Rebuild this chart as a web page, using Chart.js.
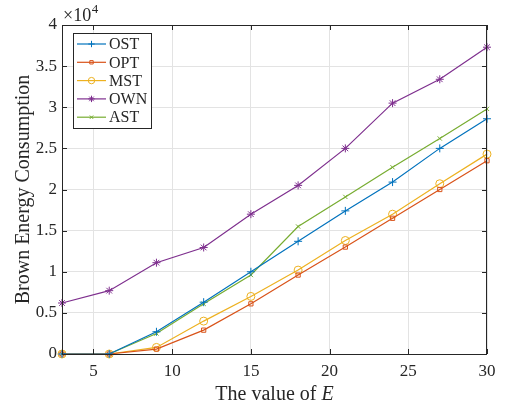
<!DOCTYPE html>
<html>
<head>
<meta charset="utf-8">
<script src="https://cdn.jsdelivr.net/npm/chart.js@4"></script>
<style>
  html, body { margin: 0; padding: 0; background: #fff; }
  #wrap { width: 506px; height: 410px; }
</style>
</head>
<body>
<div id="wrap"><canvas id="energyChart" width="506" height="410"></canvas></div>
<script>
const eValues = [3, 6, 9, 12, 15, 18, 21, 24, 27, 30];
const xTicks = [5, 10, 15, 20, 25, 30];
const yTicks = [0, 5000, 10000, 15000, 20000, 25000, 30000, 35000, 40000];

const ost = [0, 0, 2700, 6300, 10000, 13700, 17400, 20900, 25000, 28600];
const opt = [0, 0, 600, 2900, 6100, 9600, 13000, 16500, 20000, 23500];
const mst = [0, 0, 800, 4000, 7000, 10200, 13800, 17000, 20700, 24300];
const own = [6200, 7700, 11100, 12950, 17000, 20500, 25000, 30500, 33400, 37300];
const ast = [0, 0, 2500, 6100, 9600, 15500, 19100, 22700, 26200, 29800];

const FONT = '"Liberation Serif", "Times New Roman", serif';
const AXIS_COLOR = '#262626';

function series(label, values, color, style, radius) {
    return {
        label: label,
        data: eValues.map((e, i) => ({ x: e, y: values[i] })),
        borderColor: color,
        backgroundColor: color,
        borderWidth: 1.2,
        pointStyle: style,
        pointRadius: radius,
        pointBorderWidth: 1,
        pointBackgroundColor: 'rgba(0,0,0,0)',
        pointBorderColor: color,
        tension: 0,
        clip: false
    };
}

// frame, inward ticks, exponent label, axis titles and legend box like MATLAB
const matlabLook = {
    id: 'matlabLook',
    afterDatasetsDraw(chart) {
        const ctx = chart.ctx;
        const area = chart.chartArea;
        const xs = chart.scales.x;
        const ys = chart.scales.y;
        ctx.save();

        ctx.strokeStyle = AXIS_COLOR;
        ctx.lineWidth = 1;
        ctx.strokeRect(area.left + 0.5, area.top + 0.5, area.right - area.left - 1, area.bottom - area.top);

        ctx.beginPath();
        xTicks.forEach(v => {
            const px = Math.round(xs.getPixelForValue(v)) + 0.5;
            ctx.moveTo(px, area.bottom); ctx.lineTo(px, area.bottom - 5);
            ctx.moveTo(px, area.top); ctx.lineTo(px, area.top + 5);
        });
        yTicks.forEach(v => {
            const py = Math.round(ys.getPixelForValue(v)) + 0.5;
            ctx.moveTo(area.left, py); ctx.lineTo(area.left + 5, py);
            ctx.moveTo(area.right, py); ctx.lineTo(area.right - 5, py);
        });
        ctx.stroke();

        // x10^4
        ctx.fillStyle = AXIS_COLOR;
        ctx.textBaseline = 'alphabetic';
        ctx.textAlign = 'left';
        ctx.font = '18px ' + FONT;
        ctx.fillText('\u00d710', area.left + 1, area.top - 4);
        const w = ctx.measureText('\u00d710').width;
        ctx.font = '13px ' + FONT;
        ctx.fillText('4', area.left + 1 + w + 0.5, area.top - 12);

        // x title with italic E
        ctx.font = '20px ' + FONT;
        const part1 = 'The value of ';
        const w1 = ctx.measureText(part1).width;
        ctx.font = 'italic 20px ' + FONT;
        const w2 = ctx.measureText('E').width;
        const cx = (area.left + area.right) / 2;
        const startX = cx - (w1 + w2) / 2;
        ctx.font = '20px ' + FONT;
        ctx.fillText(part1, startX, 400);
        ctx.font = 'italic 20px ' + FONT;
        ctx.fillText('E', startX + w1, 400);

        // y title
        ctx.save();
        ctx.translate(29, (area.top + area.bottom) / 2);
        ctx.rotate(-Math.PI / 2);
        ctx.textAlign = 'center';
        ctx.font = '20px ' + FONT;
        ctx.fillText('Brown Energy Consumption', 0, 0);
        ctx.restore();

        // legend
        const lx = 73, ly = 33, lw = 78, lh = 95;
        ctx.fillStyle = '#fff';
        ctx.fillRect(lx, ly, lw, lh);
        ctx.strokeStyle = AXIS_COLOR;
        ctx.lineWidth = 1;
        ctx.strokeRect(lx + 0.5, ly + 0.5, lw, lh);
        ctx.font = '16px ' + FONT;
        ctx.textBaseline = 'middle';
        chart.data.datasets.forEach((ds, i) => {
            const y = ly + 11 + i * 18.3;
            ctx.strokeStyle = ds.borderColor;
            ctx.lineWidth = 1.2;
            ctx.beginPath();
            ctx.moveTo(lx + 4, y);
            ctx.lineTo(lx + 33, y);
            ctx.stroke();
            ctx.fillStyle = 'rgba(0,0,0,0)';
            ctx.lineWidth = 1;
            Chart.helpers.drawPoint(ctx, {
                pointStyle: ds.pointStyle,
                radius: ds.pointRadius * 0.8,
                borderWidth: 1,
                rotation: 0
            }, lx + 18.5, y);
            ctx.fillStyle = AXIS_COLOR;
            ctx.fillText(ds.label, lx + 36, y + 1);
        });
        ctx.restore();
    }
};

const ctx = document.getElementById('energyChart').getContext('2d');
const energyChart = new Chart(ctx, {
    type: 'line',
    data: {
        datasets: [
            series('OST', ost, '#0072BD', 'cross', 4),
            series('OPT', opt, '#D95319', 'rect', 3),
            series('MST', mst, '#EDB120', 'circle', 4),
            series('OWN', own, '#7E2F8E', 'star', 4),
            series('AST', ast, '#77AC30', 'crossRot', 3)
        ]
    },
    options: {
        responsive: false,
        animation: false,
        layout: { padding: { left: 0, right: 19, top: 25, bottom: 0 } },
        plugins: {
            legend: { display: false },
            tooltip: { enabled: false }
        },
        scales: {
            x: {
                type: 'linear',
                min: 3,
                max: 30,
                afterBuildTicks: scale => { scale.ticks = xTicks.map(v => ({ value: v })); },
                afterFit: scale => { scale.height = 56; },
                grid: { color: '#e3e3e3', drawTicks: false },
                border: { display: false },
                ticks: {
                    color: AXIS_COLOR,
                    font: { family: FONT, size: 17 },
                    padding: 7,
                    maxRotation: 0
                }
            },
            y: {
                min: 0,
                max: 40000,
                afterBuildTicks: scale => { scale.ticks = yTicks.map(v => ({ value: v })); },
                afterFit: scale => { scale.width = 62; },
                grid: { color: '#e3e3e3', drawTicks: false },
                border: { display: false },
                ticks: {
                    color: AXIS_COLOR,
                    font: { family: FONT, size: 17 },
                    padding: 5,
                    callback: v => String(v / 10000)
                }
            }
        }
    },
    plugins: [matlabLook]
});
</script>
</body>
</html>
